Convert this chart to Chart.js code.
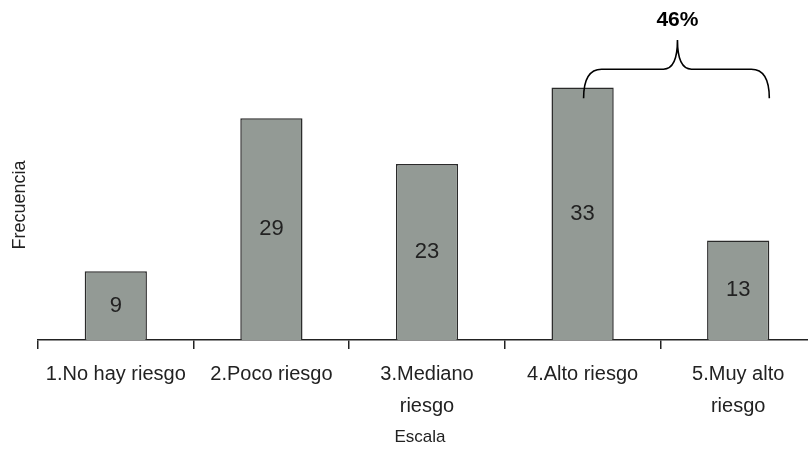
<!DOCTYPE html>
<html>
<head>
<meta charset="utf-8">
<script src="https://cdn.jsdelivr.net/npm/chart.js@4/dist/chart.umd.min.js"></script>
<style>
  html, body { margin: 0; padding: 0; background: #fff; overflow: hidden; }
</style>
</head>
<body>
<canvas id="grafico" width="830" height="470"></canvas>
<script>
const categorias = [
    ['1.No hay riesgo'],
    ['2.Poco riesgo'],
    ['3.Mediano', 'riesgo'],
    ['4.Alto riesgo'],
    ['5.Muy alto', 'riesgo']
];
const frecuencias = [9, 29, 23, 33, 13];
const textoLlave = '46%';
const llaveDesde = 3;
const llaveHasta = 4;
const tituloX = 'Escala';
const tituloY = 'Frecuencia';

const fuente = "'Liberation Sans', Arial, sans-serif";

// escribe el valor en el centro de cada barra
const etiquetasBarras = {
    id: 'etiquetasBarras',
    afterDatasetsDraw(chart) {
        const ctx = chart.ctx;
        const meta = chart.getDatasetMeta(0);
        ctx.save();
        ctx.font = '22px ' + fuente;
        ctx.fillStyle = '#222';
        ctx.textAlign = 'center';
        ctx.textBaseline = 'middle';
        meta.data.forEach((bar, i) => {
            const medio = (bar.y + bar.base) / 2;
            ctx.fillText(String(frecuencias[i]), bar.x, medio);
        });
        ctx.restore();
    }
};

// titulos de los ejes
const titulos = {
    id: 'titulos',
    afterDraw(chart) {
        const ctx = chart.ctx;
        ctx.save();
        ctx.fillStyle = '#222';
        ctx.font = '17px ' + fuente;
        ctx.textAlign = 'center';
        ctx.textBaseline = 'middle';
        ctx.fillText(tituloX, 420, 437);
        ctx.translate(20, 205);
        ctx.rotate(-Math.PI / 2);
        ctx.font = '18px ' + fuente;
        ctx.fillText(tituloY, 0, 0);
        ctx.restore();
    }
};

// llave sobre las barras 4 y 5 con el porcentaje
const llave = {
    id: 'llave',
    afterDraw(chart) {
        const ctx = chart.ctx;
        const meta = chart.getDatasetMeta(0);
        const yS = chart.scales.y;
        const b1 = meta.data[llaveDesde];
        const b2 = meta.data[llaveHasta];
        const x1 = b1.x + 1;
        const x2 = b2.x + b2.width / 2;
        const xm = (x1 + x2) / 2 + 1;
        const yFin = yS.getPixelForValue(31.6);
        const yBarra = yS.getPixelForValue(35.4);
        const yPico = yS.getPixelForValue(39.2);
        const r = 18;
        ctx.save();
        ctx.strokeStyle = '#000';
        ctx.lineWidth = 1.6;
        ctx.beginPath();
        ctx.moveTo(x1, yFin);
        ctx.quadraticCurveTo(x1, yBarra, x1 + r, yBarra);
        ctx.lineTo(xm - 14, yBarra);
        ctx.quadraticCurveTo(xm, yBarra, xm, yPico);
        ctx.quadraticCurveTo(xm, yBarra, xm + 14, yBarra);
        ctx.lineTo(x2 - r, yBarra);
        ctx.quadraticCurveTo(x2, yBarra, x2, yFin);
        ctx.stroke();
        ctx.font = 'bold 21px ' + fuente;
        ctx.fillStyle = '#000';
        ctx.textAlign = 'center';
        ctx.textBaseline = 'middle';
        ctx.fillText(textoLlave, xm, yPico - 20);
        ctx.restore();
    }
};

const ctx = document.getElementById('grafico').getContext('2d');
new Chart(ctx, {
    type: 'bar',
    data: {
        labels: categorias,
        datasets: [{
            data: frecuencias,
            backgroundColor: '#939a95',
            borderColor: '#2a2a2a',
            borderWidth: 1.5,
            borderSkipped: 'bottom',
            barPercentage: 0.4,
            categoryPercentage: 1
        }]
    },
    options: {
        responsive: false,
        animation: false,
        layout: {
            padding: { top: 34, right: 14, left: 38, bottom: 39 }
        },
        plugins: {
            legend: { display: false },
            tooltip: { enabled: false }
        },
        scales: {
            x: {
                offset: true,
                grid: {
                    offset: true,
                    drawOnChartArea: false,
                    color: '#222',
                    tickLength: 9,
                    lineWidth: 1.5
                },
                border: { color: '#222', width: 1.5 },
                ticks: {
                    color: '#222',
                    maxRotation: 0,
                    autoSkip: false,
                    padding: 9,
                    font: { family: fuente, size: 20, lineHeight: 1.6 }
                }
            },
            y: {
                display: false,
                min: 0,
                max: 40
            }
        }
    },
    plugins: [etiquetasBarras, titulos, llave]
});
</script>
</body>
</html>
